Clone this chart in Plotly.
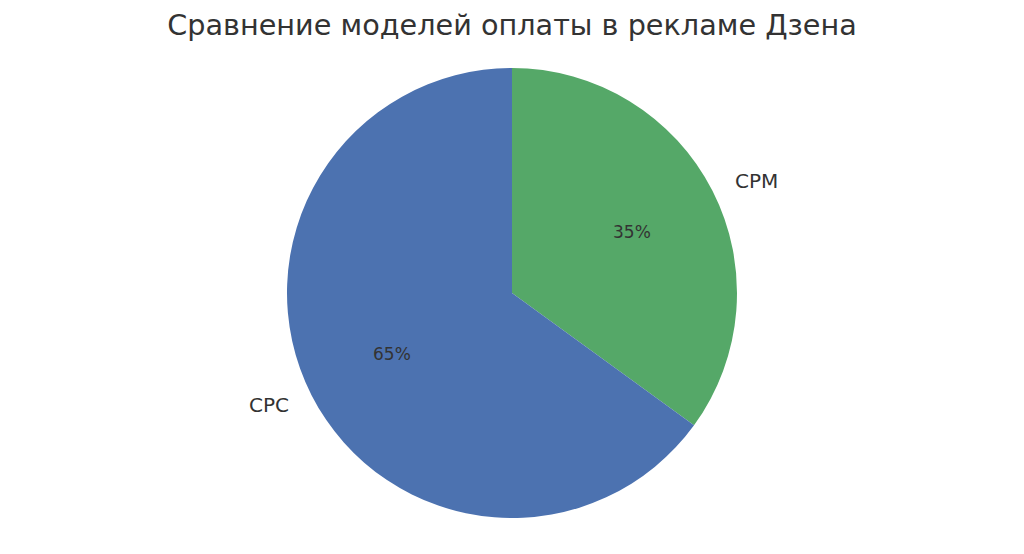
import math

import plotly.graph_objects as go

# ------------------------------------------------------
# data
# ------------------------------------------------------

labels = ["CPC", "CPM"]
shares = [65, 35]
colors = ["#4C72B0", "#55A868"]

title_text = "Сравнение моделей оплаты в рекламе Дзена"

# ------------------------------------------------------
# geometry (page pixels; the page body adds an 8px offset)
# ------------------------------------------------------

OFF = 8
W, H = 1024 - OFF, 554 - OFF
pie_top, pie_bottom = 68 - OFF, 518 - OFF
radius = (pie_bottom - pie_top) / 2
cx, cy = 512 - OFF, (pie_top + pie_bottom) / 2

fig = go.Figure()

# plotly draws clockwise from 12 o'clock, so feed the slices reversed
fig.add_trace(
    go.Pie(
        labels=labels[::-1],
        values=shares[::-1],
        marker=dict(colors=colors[::-1], line=dict(width=0)),
        sort=False,
        direction="clockwise",
        rotation=0,
        textinfo="none",
        hoverinfo="label+percent",
        showlegend=False,
        domain=dict(
            x=[0, 2 * cx / W],
            y=[1 - pie_bottom / H, 1 - pie_top / H]
        )
    )
)

# labels at 1.1 r, percentages at 0.6 r (matplotlib style)
total = sum(shares)
start = 90.0
for lab, val in zip(labels, shares):
    sweep = 360.0 * val / total
    mid = math.radians(start + sweep / 2)
    start += sweep

    lx = cx + 1.1 * radius * math.cos(mid)
    ly = cy - 1.1 * radius * math.sin(mid)
    fig.add_annotation(
        x=lx / W, y=1 - ly / H, xref="paper", yref="paper",
        text=lab, showarrow=False,
        xanchor="left" if math.cos(mid) > 0 else "right",
        yanchor="middle",
        font=dict(family="DejaVu Sans", size=20, color="#333333")
    )

    px = cx + 0.6 * radius * math.cos(mid)
    py = cy - 0.6 * radius * math.sin(mid)
    fig.add_annotation(
        x=px / W, y=1 - py / H, xref="paper", yref="paper",
        text=f"{round(100 * val / total)}%", showarrow=False,
        xanchor="center", yanchor="middle",
        font=dict(family="DejaVu Sans", size=17, color="#333333")
    )

fig.update_layout(
    width=W,
    height=H,
    margin=dict(l=0, r=0, t=0, b=0),
    paper_bgcolor="white",
    plot_bgcolor="white",
    title=dict(
        text=title_text,
        x=cx / W, xanchor="center",
        y=1 - (25 - OFF) / H, yanchor="middle",
        font=dict(family="DejaVu Sans", size=28.7, color="#333333")
    )
)

fig.write_html("out.html")
